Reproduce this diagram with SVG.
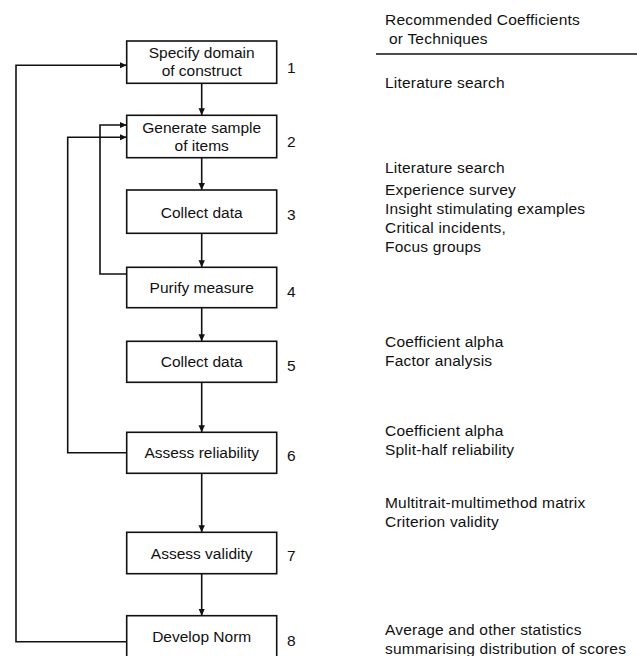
<svg xmlns="http://www.w3.org/2000/svg" width="637" height="656" viewBox="0 0 637 656">
  <style>
    .box { fill: #ffffff; stroke: #111111; stroke-width: 1.6; }
    .lbl { font-family: "Liberation Sans", Arial, sans-serif; font-size: 15.5px; fill: #111111; }
    .mid { text-anchor: middle; dominant-baseline: central; }
    .num { dominant-baseline: central; }
    .side { dominant-baseline: central; letter-spacing: 0.2px; }
    .wire { fill: none; stroke: #111111; stroke-width: 1.6; }
  </style>
  <defs>
    <marker id="arrow" markerWidth="8" markerHeight="8" refX="7" refY="4" orient="auto" markerUnits="userSpaceOnUse">
      <path d="M0,0.8 L7,4 L0,7.2 Z" fill="#111111"/>
    </marker>
  </defs>

  <rect width="637" height="656" fill="#ffffff"/>

  <!-- connectors -->
  <g id="connectors">
    <line class="wire" x1="201.7" y1="83.3" x2="201.7" y2="115.3" marker-end="url(#arrow)"/>
    <line class="wire" x1="201.7" y1="157.7" x2="201.7" y2="190" marker-end="url(#arrow)"/>
    <line class="wire" x1="201.7" y1="233.3" x2="201.7" y2="267.3" marker-end="url(#arrow)"/>
    <line class="wire" x1="201.7" y1="307.7" x2="201.7" y2="341.3" marker-end="url(#arrow)"/>
    <line class="wire" x1="201.7" y1="382.3" x2="201.7" y2="432.3" marker-end="url(#arrow)"/>
    <line class="wire" x1="201.7" y1="473.3" x2="201.7" y2="532.3" marker-end="url(#arrow)"/>
    <line class="wire" x1="201.7" y1="573.7" x2="201.7" y2="615.7" marker-end="url(#arrow)"/>
    <!-- feedback loops -->
    <polyline class="wire" points="126.7,274 100,274 100,125 126.7,125" marker-end="url(#arrow)"/>
    <polyline class="wire" points="126.7,452.7 67.7,452.7 67.7,137.3 126.7,137.3" marker-end="url(#arrow)"/>
    <polyline class="wire" points="126.7,641.7 16,641.7 16,65.3 126.7,65.3" marker-end="url(#arrow)"/>
  </g>

  <!-- process steps -->
  <g id="step1">
    <rect class="box" x="126.7" y="41" width="150" height="42.3"/>
    <text class="lbl mid" x="201.7" y="52.3">Specify domain</text>
    <text class="lbl mid" x="201.7" y="70.7">of construct</text>
    <text class="lbl num" x="287" y="67">1</text>
  </g>
  <g id="step2">
    <rect class="box" x="126.7" y="115.3" width="150" height="42.4"/>
    <text class="lbl mid" x="201.7" y="127.3">Generate sample</text>
    <text class="lbl mid" x="201.7" y="145.7">of items</text>
    <text class="lbl num" x="287" y="141.7">2</text>
  </g>
  <g id="step3">
    <rect class="box" x="126.7" y="190" width="150" height="43.3"/>
    <text class="lbl mid" x="201.7" y="212.3">Collect data</text>
    <text class="lbl num" x="287" y="214">3</text>
  </g>
  <g id="step4">
    <rect class="box" x="126.7" y="267.3" width="150" height="40.4"/>
    <text class="lbl mid" x="201.7" y="287.3">Purify measure</text>
    <text class="lbl num" x="287" y="291.7">4</text>
  </g>
  <g id="step5">
    <rect class="box" x="126.7" y="341.3" width="150" height="41"/>
    <text class="lbl mid" x="201.7" y="361">Collect data</text>
    <text class="lbl num" x="287" y="365">5</text>
  </g>
  <g id="step6">
    <rect class="box" x="126.7" y="432.3" width="150" height="41"/>
    <text class="lbl mid" x="201.7" y="452.7">Assess reliability</text>
    <text class="lbl num" x="287" y="455">6</text>
  </g>
  <g id="step7">
    <rect class="box" x="126.7" y="532.3" width="150" height="41.4"/>
    <text class="lbl mid" x="201.7" y="553.3">Assess validity</text>
    <text class="lbl num" x="287" y="555">7</text>
  </g>
  <g id="step8">
    <rect class="box" x="126.7" y="615.7" width="150" height="50"/>
    <text class="lbl mid" x="201.7" y="636.7">Develop Norm</text>
    <text class="lbl num" x="287" y="640">8</text>
  </g>

  <!-- techniques column -->
  <g id="techniques">
    <text class="lbl side" x="385" y="19">Recommended Coefficients</text>
    <text class="lbl side" x="389" y="38">or Techniques</text>
    <line x1="376" y1="54" x2="637" y2="54" stroke="#111111" stroke-width="1.4"/>
    <text class="lbl side" x="385" y="82.7">Literature search</text>
    <text class="lbl side" x="385" y="167.7">Literature search</text>
    <text class="lbl side" x="385" y="189">Experience survey</text>
    <text class="lbl side" x="385" y="208.3">Insight stimulating examples</text>
    <text class="lbl side" x="385" y="227.7">Critical incidents,</text>
    <text class="lbl side" x="385" y="246.7">Focus groups</text>
    <text class="lbl side" x="385" y="341.7">Coefficient alpha</text>
    <text class="lbl side" x="385" y="360">Factor analysis</text>
    <text class="lbl side" x="385" y="430">Coefficient alpha</text>
    <text class="lbl side" x="385" y="449">Split-half reliability</text>
    <text class="lbl side" x="385" y="502.7">Multitrait-multimethod matrix</text>
    <text class="lbl side" x="385" y="521.7">Criterion validity</text>
    <text class="lbl side" x="385" y="629.3">Average and other statistics</text>
    <text class="lbl side" x="385" y="648.3">summarising distribution of scores</text>
  </g>
</svg>
